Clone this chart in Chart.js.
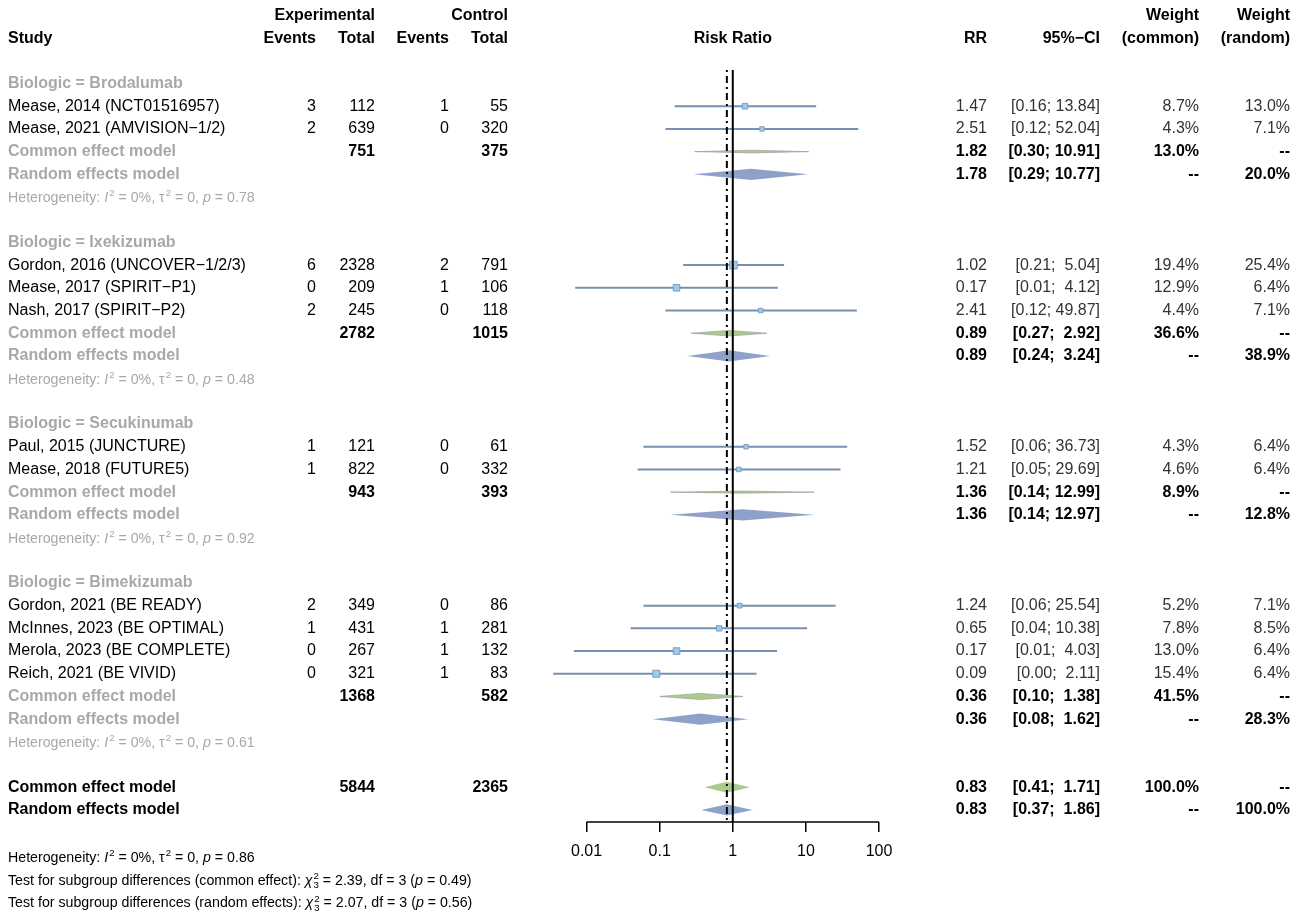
<!DOCTYPE html>
<html>
<head>
<meta charset="utf-8">
<script src="https://cdn.jsdelivr.net/npm/chart.js@4.4.1/dist/chart.umd.min.js"></script>
<style>
  html, body { margin: 0; padding: 0; background: #fff; }
  #wrap { width: 1299px; height: 921px; position: relative; }
</style>
</head>
<body>
<div id="wrap"><canvas id="forest"></canvas></div>
<script>
// ---- data ----
const groupNames = ['Brodalumab', 'Ixekizumab', 'Secukinumab', 'Bimekizumab'];
const studyLabels = [
  'Mease, 2014 (NCT01516957)', 'Mease, 2021 (AMVISION\u22121/2)',
  'Gordon, 2016 (UNCOVER\u22121/2/3)', 'Mease, 2017 (SPIRIT\u2212P1)', 'Nash, 2017 (SPIRIT\u2212P2)',
  'Paul, 2015 (JUNCTURE)', 'Mease, 2018 (FUTURE5)',
  'Gordon, 2021 (BE READY)', 'McInnes, 2023 (BE OPTIMAL)', 'Merola, 2023 (BE COMPLETE)', 'Reich, 2021 (BE VIVID)'
];
const studyGroup = [0, 0, 1, 1, 1, 2, 2, 3, 3, 3, 3];
const expEvents = [3, 2, 6, 0, 2, 1, 1, 2, 1, 0, 0];
const expTotal = [112, 639, 2328, 209, 245, 121, 822, 349, 431, 267, 321];
const ctrlEvents = [1, 0, 2, 1, 0, 0, 0, 0, 1, 1, 1];
const ctrlTotal = [55, 320, 791, 106, 118, 61, 332, 86, 281, 132, 83];
const studyRR = [1.47, 2.51, 1.02, 0.17, 2.41, 1.52, 1.21, 1.24, 0.65, 0.17, 0.09];
const studyLower = [0.16, 0.12, 0.21, 0.007, 0.12, 0.06, 0.05, 0.06, 0.04, 0.0067, 0.0035];
const studyUpper = [13.84, 52.04, 5.04, 4.12, 49.87, 36.73, 29.69, 25.54, 10.38, 4.03, 2.11];
const weightCommon = [8.7, 4.3, 19.4, 12.9, 4.4, 4.3, 4.6, 5.2, 7.8, 13.0, 15.4];
const weightRandom = [13.0, 7.1, 25.4, 6.4, 7.1, 6.4, 6.4, 7.1, 8.5, 6.4, 6.4];

const subExpTotal = [751, 2782, 943, 1368];
const subCtrlTotal = [375, 1015, 393, 582];
const subCommonRR = [1.82, 0.89, 1.36, 0.36];
const subCommonLower = [0.30, 0.27, 0.14, 0.10];
const subCommonUpper = [10.91, 2.92, 12.99, 1.38];
const subCommonWeight = [13.0, 36.6, 8.9, 41.5];
const subRandomRR = [1.78, 0.89, 1.36, 0.36];
const subRandomLower = [0.29, 0.24, 0.14, 0.08];
const subRandomUpper = [10.77, 3.24, 12.97, 1.62];
const subRandomWeight = [20.0, 38.9, 12.8, 28.3];
const subHetP = [0.78, 0.48, 0.92, 0.61];

const overallExpTotal = 5844;
const overallCtrlTotal = 2365;
const overallCommon = [0.83, 0.41, 1.71];
const overallRandom = [0.83, 0.37, 1.86];
const overallHetP = 0.86;
const testCommon = [2.39, 3, 0.49];
const testRandom = [2.07, 3, 0.56];

const xTicks = [0.01, 0.1, 1, 10, 100];

// ---- row layout ----
const rows = [];
let r = 0;
groupNames.forEach((g, gi) => {
  rows.push({ kind: 'group', r: r++, g: gi });
  studyLabels.forEach((s, i) => { if (studyGroup[i] === gi) rows.push({ kind: 'study', r: r++, i }); });
  rows.push({ kind: 'subCommon', r: r++, g: gi });
  rows.push({ kind: 'subRandom', r: r++, g: gi });
  rows.push({ kind: 'subHet', r: r++, g: gi });
  r++;
});
rows.push({ kind: 'allCommon', r: r++ });
rows.push({ kind: 'allRandom', r: r++ });
const footRow = r + 1.07;

const studyRows = rows.filter(o => o.kind === 'study');
const ciData = [];
studyRows.forEach(o => {
  ciData.push({ x: studyLower[o.i], y: o.r }, { x: studyUpper[o.i], y: o.r }, { x: 1, y: null });
});

const FONT = '"Liberation Sans", Arial, Helvetica, sans-serif';
const GREY = '#a8a8a8';
const font = (size, bold, italic) => (italic ? 'italic ' : '') + (bold ? 'bold ' : '') + size + 'px ' + FONT;
const f2 = v => v.toFixed(2);
const ci = (lo, hi) => {
  const a = f2(lo), b = f2(hi);
  return '[' + a + ';' + ' '.repeat(1 + (5 - b.length)) + b + ']';
};
const pct = w => w.toFixed(1) + '%';

const COL = { study: 8, ee: 316, et: 375, ce: 449, ct: 508, rr: 987, ci: 1100, wc: 1199, wr: 1290 };

function txt(ctx, s, x, y, align, size, bold, color) {
  ctx.font = font(size, bold);
  ctx.textAlign = align;
  ctx.textBaseline = 'middle';
  ctx.fillStyle = color;
  ctx.fillText(s, x, y);
}

function rich(ctx, parts, x, y, size, color) {
  ctx.save();
  ctx.fillStyle = color;
  ctx.textAlign = 'left';
  ctx.textBaseline = 'alphabetic';
  const base = y + size * 0.36;
  let cx = x;
  parts.forEach(([t, s]) => {
    if (s === 'sup') {
      ctx.font = font(size * 0.68);
      ctx.fillText(t, cx + 1, base - size * 0.42);
      cx += ctx.measureText(t).width + 1;
    } else if (s === 'supsub') {
      ctx.font = font(size * 0.68);
      ctx.fillText(t[0], cx + 1, base - size * 0.42);
      ctx.fillText(t[1], cx + 1, base + size * 0.22);
      cx += ctx.measureText(t[0]).width + 1;
    } else {
      ctx.font = font(size, false, s === 'i');
      ctx.fillText(t, cx, base);
      cx += ctx.measureText(t).width;
    }
  });
  ctx.restore();
}

const hetParts = p => [['Heterogeneity: '], ['I', 'i'], ['2', 'sup'], [' = 0%, '], ['\u03c4'], ['2', 'sup'], [' = 0, '], ['p', 'i'], [' = ' + f2(p)]];
const testParts = (label, t) => [['Test for subgroup differences (' + label + '): '], ['\u03c7', 'i'], ['2' + t[1], 'supsub'],
  [' = ' + f2(t[0]) + ', df = ' + t[1] + ' ('], ['p', 'i'], [' = ' + f2(t[2]) + ')']];

function diamond(ctx, xs, y, lo, est, hi, half, fill, stroke) {
  ctx.beginPath();
  ctx.moveTo(xs.getPixelForValue(lo), y);
  ctx.lineTo(xs.getPixelForValue(est), y - half);
  ctx.lineTo(xs.getPixelForValue(hi), y);
  ctx.lineTo(xs.getPixelForValue(est), y + half);
  ctx.closePath();
  ctx.fillStyle = fill;
  ctx.fill();
  if (stroke) { ctx.strokeStyle = stroke; ctx.lineWidth = 1; ctx.stroke(); }
}

const GREEN = '#a9cb8c', BLUE = '#8ea2c9';
const FULL = 5.6;

const forestPlugin = {
  id: 'forest',
  beforeDatasetsDraw(chart) {
    const ctx = chart.ctx, xs = chart.scales.x, ys = chart.scales.y;
    ctx.save();
    rows.forEach(o => {
      const y = ys.getPixelForValue(o.r);
      if (o.kind === 'subCommon') {
        const h = FULL * Math.pow(subCommonWeight[o.g] / 100, 0.7);
        diamond(ctx, xs, y, subCommonLower[o.g], subCommonRR[o.g], subCommonUpper[o.g], h, GREEN, 'rgba(160,160,160,0.7)');
      } else if (o.kind === 'subRandom') {
        diamond(ctx, xs, y, subRandomLower[o.g], subRandomRR[o.g], subRandomUpper[o.g], FULL, BLUE);
      } else if (o.kind === 'allCommon') {
        diamond(ctx, xs, y, overallCommon[1], overallCommon[0], overallCommon[2], FULL, GREEN);
      } else if (o.kind === 'allRandom') {
        diamond(ctx, xs, y, overallRandom[1], overallRandom[0], overallRandom[2], FULL, BLUE);
      }
    });
    ctx.restore();
  },
  afterDatasetsDraw(chart) {
    const ctx = chart.ctx, xs = chart.scales.x, a = chart.chartArea;
    ctx.save();
    ctx.strokeStyle = '#000';
    ctx.lineWidth = 2;
    const x1 = xs.getPixelForValue(1);
    ctx.beginPath(); ctx.moveTo(x1, a.top + 2); ctx.lineTo(x1, a.bottom); ctx.stroke();
    const xc = xs.getPixelForValue(overallCommon[0]);
    ctx.setLineDash([2, 4, 7, 4]);
    ctx.beginPath(); ctx.moveTo(xc, a.top + 2); ctx.lineTo(xc, a.bottom); ctx.stroke();
    ctx.setLineDash([]);
    ctx.lineWidth = 1.5;
    ctx.beginPath();
    ctx.moveTo(xs.getPixelForValue(xTicks[0]), a.bottom);
    ctx.lineTo(xs.getPixelForValue(xTicks[xTicks.length - 1]), a.bottom);
    ctx.stroke();
    ctx.restore();
  },
  afterDraw(chart) {
    const ctx = chart.ctx, ys = chart.scales.y, xs = chart.scales.x;
    const Y = v => ys.getPixelForValue(v);
    ctx.save();
    // header
    const h1 = Y(-3), h2 = Y(-2);
    txt(ctx, 'Experimental', COL.et, h1, 'right', 16, true, '#000');
    txt(ctx, 'Control', COL.ct, h1, 'right', 16, true, '#000');
    txt(ctx, 'Weight', COL.wc, h1, 'right', 16, true, '#000');
    txt(ctx, 'Weight', COL.wr, h1, 'right', 16, true, '#000');
    txt(ctx, 'Study', COL.study, h2, 'left', 16, true, '#000');
    txt(ctx, 'Events', COL.ee, h2, 'right', 16, true, '#000');
    txt(ctx, 'Total', COL.et, h2, 'right', 16, true, '#000');
    txt(ctx, 'Events', COL.ce, h2, 'right', 16, true, '#000');
    txt(ctx, 'Total', COL.ct, h2, 'right', 16, true, '#000');
    txt(ctx, 'Risk Ratio', xs.getPixelForValue(1), h2, 'center', 16, true, '#000');
    txt(ctx, 'RR', COL.rr, h2, 'right', 16, true, '#000');
    txt(ctx, '95%\u2212CI', COL.ci, h2, 'right', 16, true, '#000');
    txt(ctx, '(common)', COL.wc, h2, 'right', 16, true, '#000');
    txt(ctx, '(random)', COL.wr, h2, 'right', 16, true, '#000');

    rows.forEach(o => {
      const y = Y(o.r);
      if (o.kind === 'group') {
        txt(ctx, 'Biologic = ' + groupNames[o.g], COL.study, y, 'left', 16, true, GREY);
      } else if (o.kind === 'study') {
        const i = o.i;
        txt(ctx, studyLabels[i], COL.study, y, 'left', 16, false, '#000');
        txt(ctx, String(expEvents[i]), COL.ee, y, 'right', 16, false, '#000');
        txt(ctx, String(expTotal[i]), COL.et, y, 'right', 16, false, '#000');
        txt(ctx, String(ctrlEvents[i]), COL.ce, y, 'right', 16, false, '#000');
        txt(ctx, String(ctrlTotal[i]), COL.ct, y, 'right', 16, false, '#000');
        txt(ctx, f2(studyRR[i]), COL.rr, y, 'right', 16, false, '#333');
        txt(ctx, ci(studyLower[i], studyUpper[i]), COL.ci, y, 'right', 16, false, '#333');
        txt(ctx, pct(weightCommon[i]), COL.wc, y, 'right', 16, false, '#333');
        txt(ctx, pct(weightRandom[i]), COL.wr, y, 'right', 16, false, '#333');
      } else if (o.kind === 'subCommon' || o.kind === 'allCommon') {
        const sub = o.kind === 'subCommon';
        const v = sub ? [subCommonRR[o.g], subCommonLower[o.g], subCommonUpper[o.g]] : overallCommon;
        txt(ctx, 'Common effect model', COL.study, y, 'left', 16, true, sub ? GREY : '#000');
        txt(ctx, String(sub ? subExpTotal[o.g] : overallExpTotal), COL.et, y, 'right', 16, true, '#000');
        txt(ctx, String(sub ? subCtrlTotal[o.g] : overallCtrlTotal), COL.ct, y, 'right', 16, true, '#000');
        txt(ctx, f2(v[0]), COL.rr, y, 'right', 16, true, '#000');
        txt(ctx, ci(v[1], v[2]), COL.ci, y, 'right', 16, true, '#000');
        txt(ctx, pct(sub ? subCommonWeight[o.g] : 100), COL.wc, y, 'right', 16, true, '#000');
        txt(ctx, '--', COL.wr, y, 'right', 16, true, '#000');
      } else if (o.kind === 'subRandom' || o.kind === 'allRandom') {
        const sub = o.kind === 'subRandom';
        const v = sub ? [subRandomRR[o.g], subRandomLower[o.g], subRandomUpper[o.g]] : overallRandom;
        txt(ctx, 'Random effects model', COL.study, y, 'left', 16, true, sub ? GREY : '#000');
        txt(ctx, f2(v[0]), COL.rr, y, 'right', 16, true, '#000');
        txt(ctx, ci(v[1], v[2]), COL.ci, y, 'right', 16, true, '#000');
        txt(ctx, '--', COL.wc, y, 'right', 16, true, '#000');
        txt(ctx, pct(sub ? subRandomWeight[o.g] : 100), COL.wr, y, 'right', 16, true, '#000');
      } else if (o.kind === 'subHet') {
        rich(ctx, hetParts(subHetP[o.g]), COL.study, y, 14.2, GREY);
      }
    });
    rich(ctx, hetParts(overallHetP), COL.study, Y(footRow), 14.2, '#000');
    rich(ctx, testParts('common effect', testCommon), COL.study, Y(footRow + 1), 14.2, '#000');
    rich(ctx, testParts('random effects', testRandom), COL.study, Y(footRow + 2), 14.2, '#000');
    ctx.restore();
  }
};

new Chart(document.getElementById('forest'), {
  type: 'scatter',
  data: {
    datasets: [
      {
        label: 'Studies',
        data: studyRows.map(o => ({ x: studyRR[o.i], y: o.r })),
        pointStyle: 'rect',
        pointRadius: studyRows.map(o => (1.5 + 14 * Math.sqrt(weightCommon[o.i] / 100)) / Math.SQRT2),
        backgroundColor: '#9ccbee',
        borderColor: '#7d9ec2',
        borderWidth: 1,
        order: 0
      },
      {
        label: 'CI',
        data: ciData,
        showLine: true,
        spanGaps: false,
        pointRadius: 0,
        borderColor: '#7890b0',
        borderWidth: 2,
        order: 1
      }
    ]
  },
  options: {
    responsive: true,
    maintainAspectRatio: false,
    animation: false,
    events: [],
    layout: { padding: { left: 550, right: 420, top: 68, bottom: 0 } },
    plugins: { legend: { display: false }, tooltip: { enabled: false } },
    scales: {
      x: {
        type: 'logarithmic',
        min: Math.pow(10, -2.5),
        max: 100,
        afterBuildTicks: s => { s.ticks = xTicks.map(v => ({ value: v })); },
        afterFit: s => { s.height = 99; },
        border: { display: false },
        grid: { drawOnChartArea: false, drawTicks: true, tickLength: 10, color: '#000', lineWidth: 1.5 },
        ticks: {
          autoSkip: false,
          maxRotation: 0,
          padding: 10,
          color: '#000',
          font: { family: FONT, size: 16 },
          callback: v => String(v)
        }
      },
      y: {
        type: 'linear',
        reverse: true,
        min: -0.683,
        max: 32.53,
        display: false
      }
    }
  },
  plugins: [forestPlugin]
});
</script>
</body>
</html>
